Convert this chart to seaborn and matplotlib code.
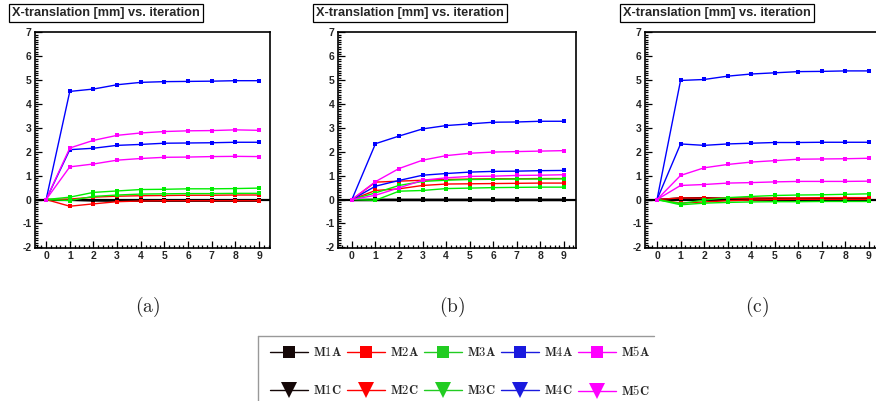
import numpy as np
import pandas as pd
import matplotlib
matplotlib.use("Agg")
import matplotlib.pyplot as plt
from matplotlib.lines import Line2D
from matplotlib.ticker import MultipleLocator
import seaborn as sns

# ---- data -------------------------------------------------------------
iterations = list(range(10))
series_names = ["M1A", "M1C", "M2A", "M2C", "M3A", "M3C", "M4A", "M4C", "M5A", "M5C"]

# panel (a)
a_M1A = [0, -0.01, -0.02, -0.03, -0.03, -0.03, -0.03, -0.03, -0.03, -0.03]
a_M1C = [0, -0.03, -0.06, -0.07, -0.07, -0.07, -0.07, -0.07, -0.07, -0.07]
a_M2A = [0, 0.02, 0.10, 0.14, 0.16, 0.17, 0.18, 0.18, 0.19, 0.19]
a_M2C = [0, -0.28, -0.18, -0.09, -0.06, -0.05, -0.05, -0.05, -0.05, -0.05]
a_M3A = [0, 0.10, 0.30, 0.36, 0.42, 0.43, 0.45, 0.45, 0.46, 0.48]
a_M3C = [0, -0.04, 0.13, 0.19, 0.23, 0.24, 0.25, 0.25, 0.26, 0.26]
a_M4A = [0, 4.53, 4.63, 4.81, 4.91, 4.94, 4.95, 4.96, 4.98, 4.98]
a_M4C = [0, 2.09, 2.15, 2.27, 2.31, 2.36, 2.37, 2.38, 2.40, 2.40]
a_M5A = [0, 2.16, 2.48, 2.69, 2.79, 2.85, 2.88, 2.89, 2.92, 2.90]
a_M5C = [0, 1.37, 1.49, 1.65, 1.72, 1.77, 1.78, 1.80, 1.81, 1.80]

# panel (b)
b_M1A = [0, 0.01, 0.01, 0.01, 0.01, 0.01, 0.01, 0.01, 0.01, 0.01]
b_M1C = [0, 0.00, 0.00, 0.00, 0.00, 0.00, 0.00, 0.00, 0.00, 0.00]
b_M2A = [0, 0.73, 0.77, 0.81, 0.84, 0.86, 0.87, 0.87, 0.88, 0.88]
b_M2C = [0, 0.38, 0.45, 0.59, 0.65, 0.66, 0.67, 0.68, 0.69, 0.69]
b_M3A = [0, 0.28, 0.59, 0.76, 0.81, 0.84, 0.85, 0.86, 0.86, 0.87]
b_M3C = [0, -0.03, 0.35, 0.38, 0.46, 0.48, 0.50, 0.51, 0.52, 0.52]
b_M4A = [0, 2.34, 2.66, 2.96, 3.10, 3.17, 3.24, 3.25, 3.28, 3.28]
b_M4C = [0, 0.56, 0.80, 1.02, 1.09, 1.15, 1.18, 1.19, 1.21, 1.22]
b_M5A = [0, 0.75, 1.30, 1.65, 1.84, 1.94, 1.99, 2.01, 2.03, 2.05]
b_M5C = [0, 0.18, 0.49, 0.81, 0.91, 0.97, 0.98, 1.01, 1.02, 1.04]

# panel (c)
c_M1A = [0, 0.07, 0.08, 0.05, 0.05, 0.05, 0.05, 0.05, 0.05, 0.05]
c_M1C = [0, 0.02, 0.03, 0.02, 0.02, 0.02, 0.02, 0.02, 0.02, 0.02]
c_M2A = [0, 0.07, 0.06, 0.06, 0.06, 0.07, 0.07, 0.08, 0.08, 0.08]
c_M2C = [0, -0.15, -0.10, -0.05, -0.02, 0.00, 0.01, 0.01, 0.01, 0.01]
c_M3A = [0, -0.17, -0.02, 0.08, 0.13, 0.17, 0.19, 0.20, 0.22, 0.24]
c_M3C = [0, -0.22, -0.15, -0.12, -0.10, -0.09, -0.09, -0.08, -0.08, -0.08]
c_M4A = [0, 4.99, 5.03, 5.17, 5.26, 5.31, 5.36, 5.37, 5.39, 5.39]
c_M4C = [0, 2.33, 2.27, 2.33, 2.36, 2.39, 2.39, 2.40, 2.40, 2.40]
c_M5A = [0, 1.01, 1.33, 1.47, 1.57, 1.63, 1.69, 1.70, 1.71, 1.73]
c_M5C = [0, 0.59, 0.63, 0.69, 0.71, 0.74, 0.76, 0.76, 0.76, 0.77]

panel_labels = ["(a)", "(b)", "(c)"]
panel_title = "X-translation [mm] vs. iteration"
y_ticks = [-2, -1, 0, 1, 2, 3, 4, 5, 6, 7]

panels = [
    [a_M1A, a_M1C, a_M2A, a_M2C, a_M3A, a_M3C, a_M4A, a_M4C, a_M5A, a_M5C],
    [b_M1A, b_M1C, b_M2A, b_M2C, b_M3A, b_M3C, b_M4A, b_M4C, b_M5A, b_M5C],
    [c_M1A, c_M1C, c_M2A, c_M2C, c_M3A, c_M3C, c_M4A, c_M4C, c_M5A, c_M5C],
]

line_colors = {"M1": "#000000", "M2": "#ff0000", "M3": "#00ee00", "M4": "#0000ff", "M5": "#ff00ff"}
legend_colors = {"M1": "#150808", "M2": "#ff0000", "M3": "#22cc22", "M4": "#1a1ade", "M5": "#ff00ff"}

# ---- style ------------------------------------------------------------
sns.set_theme(style="white")
plt.rcParams["font.family"] = ["Liberation Sans", "DejaVu Sans"]
plt.rcParams["mathtext.fontset"] = "cm"
plt.rcParams["axes.unicode_minus"] = False

W, H = 876, 401
fig = plt.figure(figsize=(W / 100, H / 100), dpi=100)

# axes frames in pixels: (left, right, top, bottom), and x-limits
frames = [(35, 270, 32, 248), (338, 576, 32, 248), (645, 880, 32, 248)]
xlims = [(-0.47, 9.46), (-0.59, 9.51), (-0.51, 9.47)]
title_centers = [106, 410, 717]
label_centers = [148, 452, 757]

palette = {name: line_colors[name[:2]] for name in series_names}

for i, (vals, (l, r, t, b)) in enumerate(zip(panels, frames)):
    ax = fig.add_axes([l / W, 1 - b / H, (r - l) / W, (b - t) / H])
    df = pd.DataFrame({
        "iteration": np.tile(iterations, len(series_names)),
        "value": np.concatenate(vals),
        "series": np.repeat(series_names, len(iterations)),
    })
    ax.axhline(0, color="black", lw=1.6, zorder=1)
    sns.lineplot(data=df, x="iteration", y="value", hue="series", palette=palette,
                 hue_order=series_names, estimator=None, marker="s", markersize=2.6,
                 markeredgewidth=0, lw=1.0, legend=False, ax=ax, zorder=2)
    ax.set_xlim(*xlims[i])
    ax.set_ylim(-2.03, 7.02)
    ax.set_xlabel("")
    ax.set_ylabel("")
    ax.set_xticks(iterations)
    ax.set_yticks(y_ticks)
    ax.xaxis.set_minor_locator(MultipleLocator(0.2))
    ax.yaxis.set_minor_locator(MultipleLocator(0.1))
    ax.tick_params(which="both", direction="in", top=False, right=False,
                   bottom=True, left=True, color="black", width=0.9)
    ax.tick_params(which="major", length=5, labelsize=7.5, pad=2.5)
    ax.tick_params(which="minor", length=2.5)
    for lab in ax.get_xticklabels() + ax.get_yticklabels():
        lab.set_fontweight("bold")
    for sp in ax.spines.values():
        sp.set_color("black")
        sp.set_linewidth(1.2)
    ax.grid(False)

    fig.text(title_centers[i] / W, 1 - 13 / H, panel_title, ha="center", va="center",
             fontsize=9.2, fontweight="bold",
             bbox=dict(boxstyle="square,pad=0.22", fc="white", ec="black", lw=0.9))
    fig.text(label_centers[i] / W, 1 - 307 / H, r"$\mathrm{" + panel_labels[i] + "}$",
             ha="center", va="center", fontsize=14)

# ---- legend -----------------------------------------------------------
handles = []
for name in series_names:
    handles.append(Line2D([], [], color=legend_colors[name[:2]], lw=1.0,
                          marker="s" if name.endswith("A") else "v",
                          markersize=9 if name.endswith("A") else 11,
                          markeredgewidth=0))
labels = [r"$\mathbf{" + n + "}$" for n in series_names]
fig.legend(handles, labels, ncol=5, loc="upper left",
           bbox_to_anchor=(270 / W, 1 - 345 / H), frameon=False,
           prop={"size": 9}, handlelength=3.0, handletextpad=0.45,
           columnspacing=0.38, labelspacing=2.0, borderpad=0, borderaxespad=0)

fig.add_artist(Line2D([258 / W, 654 / W], [1 - 336 / H, 1 - 336 / H],
                      transform=fig.transFigure, color="#999999", lw=1.0))
fig.add_artist(Line2D([258 / W, 258 / W], [1 - 336 / H, 0],
                      transform=fig.transFigure, color="#999999", lw=1.0))

fig.savefig("out.png", dpi=100)
